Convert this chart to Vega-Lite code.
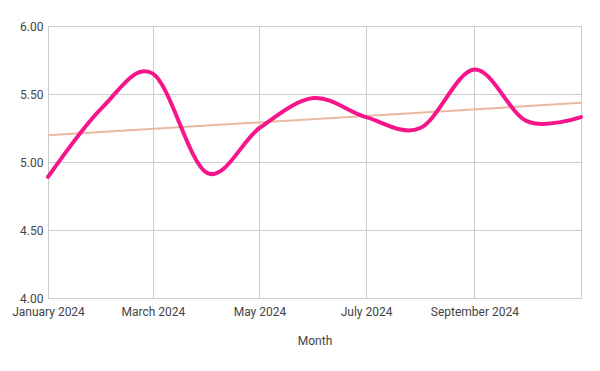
{
  "$schema": "https://vega.github.io/schema/vega-lite/v6.json",
  "autosize": "none",
  "width": 533,
  "height": 272,
  "padding": {"left": 48, "top": 26, "right": 19, "bottom": 73},
  "background": "white",
  "config": {
    "font": "Roboto",
    "view": {"stroke": "#cccccc", "strokeWidth": 1},
    "axis": {
      "labelFont": "Roboto",
      "labelFontSize": 12,
      "labelColor": "#444444",
      "titleFont": "Roboto",
      "titleFontSize": 12,
      "titleFontWeight": "normal",
      "titleColor": "#444444",
      "gridColor": "#cccccc",
      "gridOpacity": 1,
      "domain": false,
      "ticks": false
    }
  },
  "data": {
    "values": [
      {"month": "2024-01-01", "value": 4.89},
      {"month": "2024-02-01", "value": 5.40},
      {"month": "2024-03-01", "value": 5.65},
      {"month": "2024-04-01", "value": 4.92},
      {"month": "2024-05-01", "value": 5.25},
      {"month": "2024-06-01", "value": 5.47},
      {"month": "2024-07-01", "value": 5.33},
      {"month": "2024-08-01", "value": 5.25},
      {"month": "2024-09-01", "value": 5.68},
      {"month": "2024-10-01", "value": 5.30},
      {"month": "2024-11-01", "value": 5.33}
    ]
  },
  "encoding": {
    "x": {
      "field": "month",
      "type": "temporal",
      "title": "Month",
      "scale": {"nice": false},
      "axis": {
        "values": ["2024-01-01T00:00:00", "2024-03-01T00:00:00", "2024-05-01T00:00:00", "2024-07-01T00:00:00", "2024-09-01T00:00:00"],
        "format": "%B %Y",
        "labelFlush": false,
        "labelPadding": 8,
        "titlePadding": 18,
        "labelOverlap": false
      }
    },
    "y": {
      "field": "value",
      "type": "quantitative",
      "title": null,
      "scale": {"domain": [4, 6], "nice": false, "zero": false},
      "axis": {"values": [4, 4.5, 5, 5.5, 6], "format": ".2f", "labelPadding": 5}
    }
  },
  "layer": [
    {
      "transform": [{"regression": "value", "on": "month", "method": "linear"}],
      "mark": {"type": "line", "color": "#eab9a2", "strokeWidth": 2}
    },
    {
      "mark": {"type": "line", "color": "#f5168b", "strokeWidth": 4, "interpolate": "cardinal", "strokeCap": "round"}
    }
  ]
}
